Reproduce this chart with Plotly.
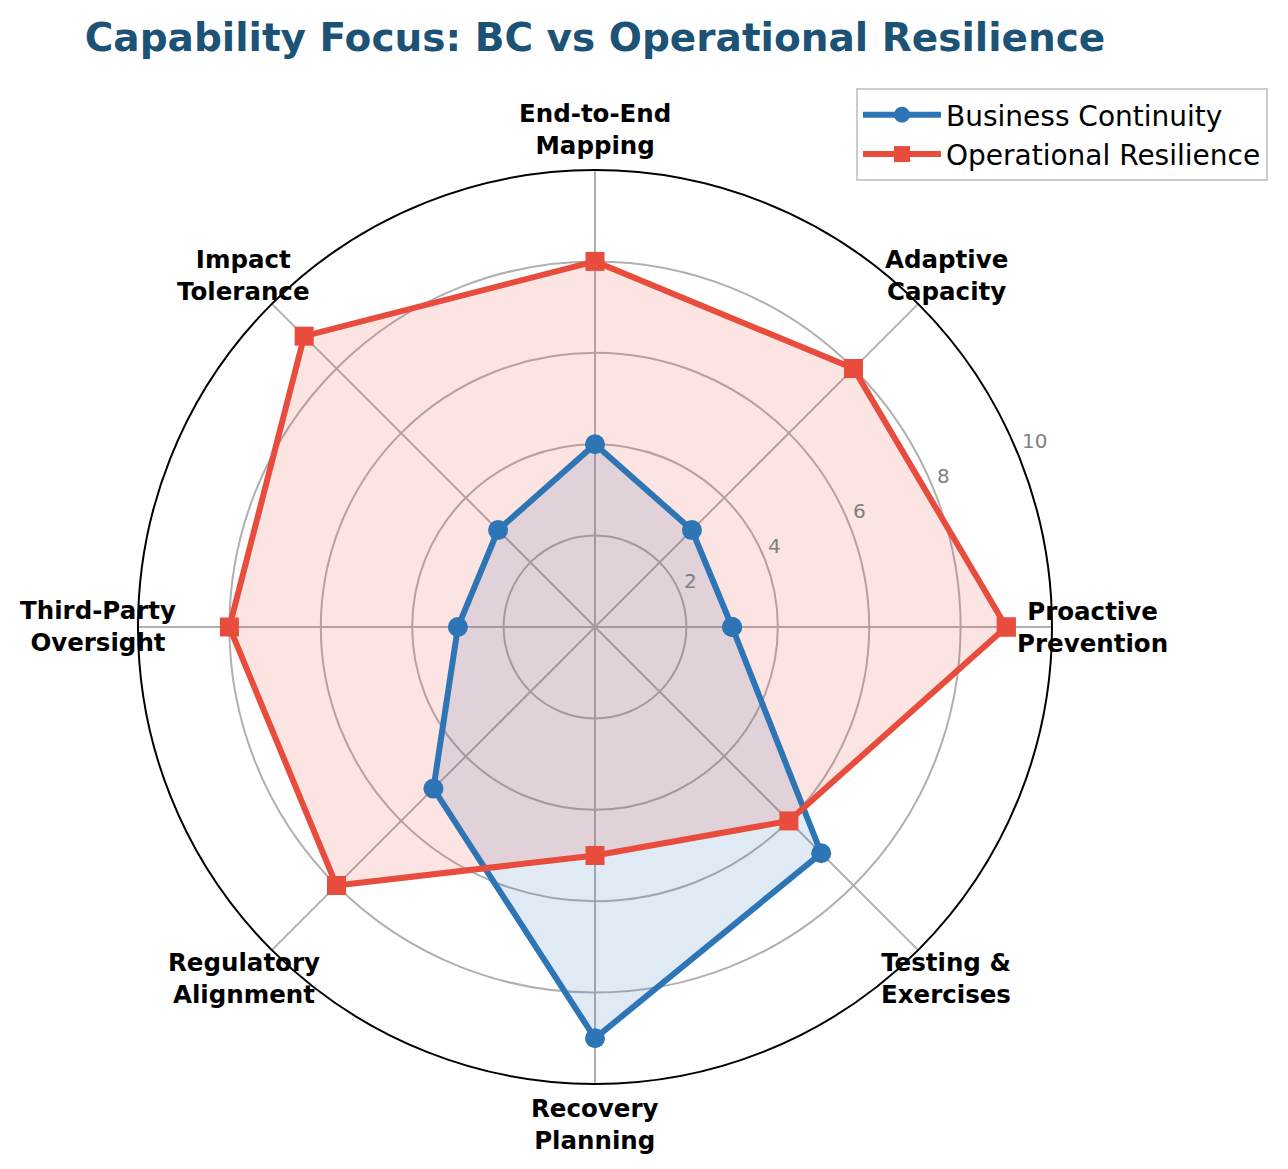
import math
import plotly.graph_objects as go

categories = ["Proactive<br>Prevention", "Adaptive<br>Capacity", "End-to-End<br>Mapping",
              "Impact<br>Tolerance", "Third-Party<br>Oversight", "Regulatory<br>Alignment",
              "Recovery<br>Planning", "Testing &<br>Exercises"]
bc_values = [3, 3, 4, 3, 3, 5, 9, 7]
or_values = [9, 8, 8, 9, 8, 8, 5, 6]
radial_ticks = [2, 4, 6, 8, 10]

BLUE = "#2E75B6"
RED = "#E74C3C"
FONT = "DejaVu Sans"

# layout geometry (pixels)
W, H = 1288, 1169
CX, CY, RAD = 595, 627, 457          # polar centre and outer radius
RMAX = 10
LABEL_RAD = 497                      # category label centre radius
RLABEL_ANGLE = 22.5

theta = categories + categories[:1]
series = [
    ("Business Continuity", bc_values, BLUE, "rgba(46,117,182,0.15)", "circle", 20),
    ("Operational Resilience", or_values, RED, "rgba(231,76,60,0.15)", "square", 19),
]

fig = go.Figure()
# fills first (beneath all lines)
for name, vals, color, fillc, sym, size in series:
    fig.add_trace(go.Scatterpolar(
        r=vals + vals[:1], theta=theta, mode="lines", fill="toself", fillcolor=fillc,
        line=dict(color="rgba(0,0,0,0)", width=0), showlegend=False, hoverinfo="skip",
    ))
# lines and markers on top
for name, vals, color, fillc, sym, size in series:
    fig.add_trace(go.Scatterpolar(
        r=vals + vals[:1], theta=theta, name=name, mode="lines+markers",
        line=dict(color=color, width=6), marker=dict(symbol=sym, size=size, color=color),
    ))

annotations = []
n = len(categories)
for i, cat in enumerate(categories):
    a = math.radians(360.0 * i / n)
    px = CX + LABEL_RAD * math.cos(a)
    py = CY - LABEL_RAD * math.sin(a)
    annotations.append(dict(
        x=px / W, y=1 - py / H, xref="paper", yref="paper",
        text="<b>" + cat + "</b>", showarrow=False,
        xanchor="center", yanchor="middle", align="center",
        font=dict(family=FONT, size=24.5, color="black"),
    ))
ra = math.radians(RLABEL_ANGLE)
for t in radial_ticks:
    rp = RAD * t / RMAX
    px = CX + rp * math.cos(ra) + 2.3
    py = CY - rp * math.sin(ra) - 10.8
    annotations.append(dict(
        x=px / W, y=1 - py / H, xref="paper", yref="paper",
        text=str(t), showarrow=False, xanchor="left", yanchor="middle",
        font=dict(family=FONT, size=20, color="#808080"),
    ))

fig.update_layout(
    width=W, height=H,
    margin=dict(l=0, r=0, t=0, b=0),
    paper_bgcolor="white",
    font=dict(family=FONT, color="black"),
    title=dict(text="Capability Focus: BC vs Operational Resilience",
               font=dict(family=FONT, size=39, color="#1B5276", weight="bold"),
               x=595/W, xanchor="center", xref="paper",
               y=1-37/H, yanchor="middle", yref="container"),
    polar=dict(
        domain=dict(x=[(CX-RAD)/W, (CX+RAD)/W], y=[1-(CY+RAD)/H, 1-(CY-RAD)/H]),
        bgcolor="white",
        radialaxis=dict(range=[0, RMAX], tickvals=radial_ticks, angle=RLABEL_ANGLE,
                        showticklabels=False, showline=False, ticks="",
                        gridcolor="#b0b0b0", gridwidth=1.7),
        angularaxis=dict(rotation=0, direction="counterclockwise", showline=True,
                         linecolor="black", linewidth=2, ticks="", showticklabels=False,
                         gridcolor="#b0b0b0", gridwidth=1.7),
    ),
    annotations=annotations,
    legend=dict(x=1268/W, xanchor="right", y=1-88/H, yanchor="top",
                bgcolor="white", bordercolor="#cccccc", borderwidth=2, itemwidth=78,
                font=dict(family=FONT, size=28, color="black")),
)

fig.write_html("out.html", config={"displayModeBar": False},
               post_script="document.body.style.margin='0';")
